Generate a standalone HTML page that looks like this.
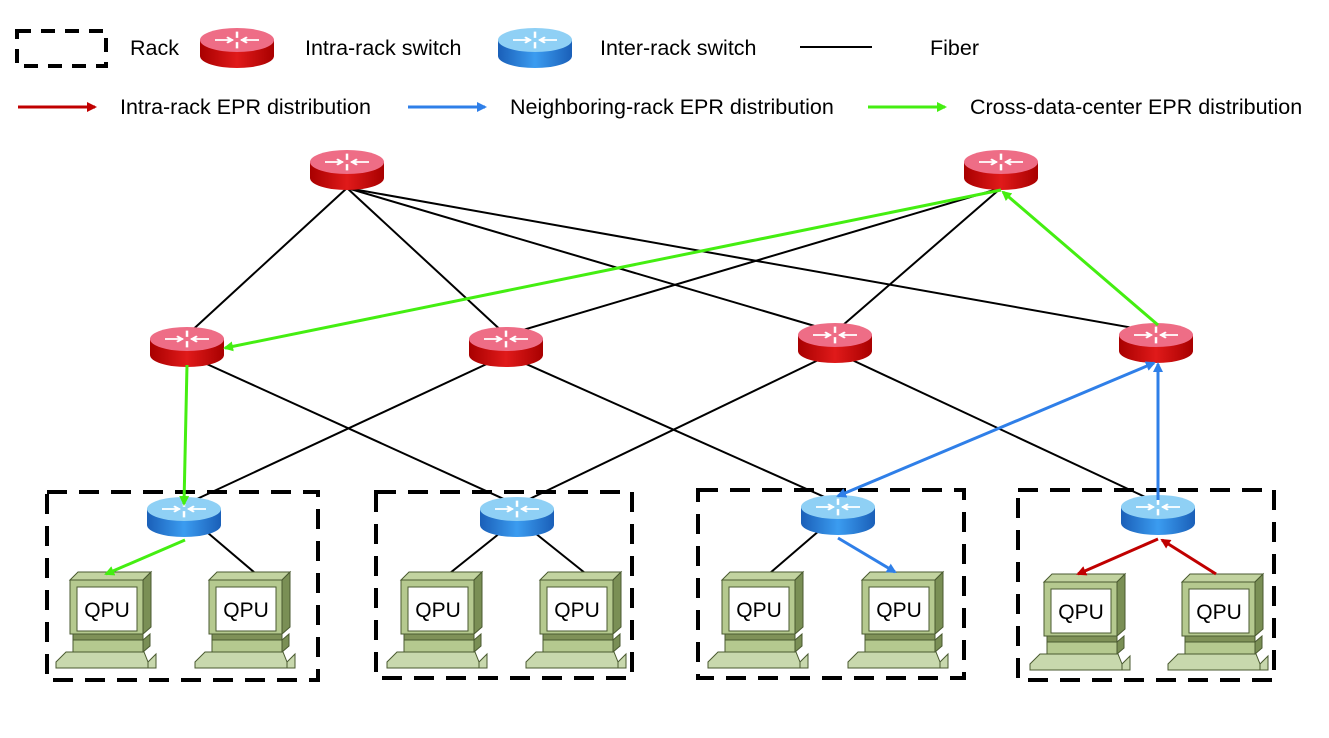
<!DOCTYPE html>
<html><head><meta charset="utf-8"><style>
html,body{margin:0;padding:0;background:#fff;}
svg{display:block;font-family:"Liberation Sans",sans-serif;}
</style></head><body>
<svg width="1329" height="738" viewBox="0 0 1329 738" xmlns="http://www.w3.org/2000/svg">
<defs>
<linearGradient id="rs" x1="0" x2="1"><stop offset="0" stop-color="#a80000"/><stop offset="0.5" stop-color="#e01a1a"/><stop offset="1" stop-color="#a80000"/></linearGradient>
<linearGradient id="bs" x1="0" x2="1"><stop offset="0" stop-color="#1a5fb8"/><stop offset="0.5" stop-color="#3b9cf0"/><stop offset="1" stop-color="#1a5fb8"/></linearGradient>
<g id="arrows"><g stroke="#fff" stroke-width="2.5" fill="none"><path d="M-4,0H-22M4,0H22M0,-3V-12M0,3V12M-10,-4L-5,0L-10,4M10,-4L5,0L10,4"/></g></g>
<g id="red">
<path d="M-37,-8 V8 A37,12 0 0 0 37,8 V-8 Z" fill="url(#rs)"/>
<ellipse cx="0" cy="-8" rx="37" ry="12" fill="#ee6d86"/>
<g transform="translate(0,-8) scale(1,0.7)"><use href="#arrows"/></g>
</g>
<g id="blue">
<path d="M-37,-8 V8 A37,12 0 0 0 37,8 V-8 Z" fill="url(#bs)"/>
<ellipse cx="0" cy="-8" rx="37" ry="12" fill="#8fd0f5"/>
<g transform="translate(0,-8) scale(1,0.7)"><use href="#arrows"/></g>
</g>
<g id="pc" stroke="#4a5a30" stroke-width="1">
<path d="M14,8 L22,0 H95 L87,8 Z" fill="#c2d3a0"/>
<path d="M87,8 L95,0 V55 L87,62 Z" fill="#7a8f55"/>
<rect x="14" y="8" width="73" height="54" fill="#b5c98f"/>
<rect x="21" y="15" width="60" height="44" fill="#fff" stroke="#4a5a30"/>
<rect x="17" y="62" width="70" height="6" fill="#7f9158"/>
<rect x="17" y="68" width="70" height="12" fill="#b5c98f"/>
<path d="M87,68 L94,62 V74 L87,80Z" fill="#7a8f55"/>
<path d="M10,80 H88 L92,90 V96 H0 V90 Z" fill="#c8d8ad"/>
<path d="M92,90 L100,82 V96 H92Z" fill="#c8d8ad"/>
<text x="51" y="45" font-size="21" text-anchor="middle" fill="#000" stroke="none">QPU</text>
</g>
<marker id="mr" markerWidth="10" markerHeight="10" refX="8" refY="5" orient="auto" markerUnits="userSpaceOnUse"><path d="M0,0 L10,5 L0,10Z" fill="#c00000"/></marker>
<marker id="mb" markerWidth="10" markerHeight="10" refX="8" refY="5" orient="auto" markerUnits="userSpaceOnUse"><path d="M0,0 L10,5 L0,10Z" fill="#2f7fe8"/></marker>
<marker id="mbs" markerWidth="10" markerHeight="10" refX="2" refY="5" orient="auto" markerUnits="userSpaceOnUse"><path d="M10,0 L0,5 L10,10Z" fill="#2f7fe8"/></marker>
<marker id="mg" markerWidth="10" markerHeight="10" refX="8" refY="5" orient="auto" markerUnits="userSpaceOnUse"><path d="M0,0 L10,5 L0,10Z" fill="#44ee11"/></marker>
</defs>

<!-- legend -->
<rect x="17" y="31" width="89" height="35" fill="none" stroke="#000" stroke-width="4" stroke-dasharray="14,10"/>
<text x="130" y="55" font-size="21.5">Rack</text>
<use href="#red" x="237" y="48"/>
<text x="305" y="55" font-size="21.5">Intra-rack switch</text>
<use href="#blue" x="535" y="48"/>
<text x="600" y="55" font-size="21.5">Inter-rack switch</text>
<line x1="800" y1="47" x2="872" y2="47" stroke="#000" stroke-width="2"/>
<text x="930" y="55" font-size="21.5">Fiber</text>
<line x1="18" y1="107" x2="95" y2="107" stroke="#c00000" stroke-width="3" marker-end="url(#mr)"/>
<text x="120" y="114" font-size="21.5">Intra-rack EPR distribution</text>
<line x1="408" y1="107" x2="485" y2="107" stroke="#2f7fe8" stroke-width="3" marker-end="url(#mb)"/>
<text x="510" y="114" font-size="21.5">Neighboring-rack EPR distribution</text>
<line x1="868" y1="107" x2="945" y2="107" stroke="#44ee11" stroke-width="3" marker-end="url(#mg)"/>
<text x="970" y="114" font-size="21.5">Cross-data-center EPR distribution</text>

<!-- racks -->
<g fill="none" stroke="#000" stroke-width="4" stroke-dasharray="20,12">
<rect x="47" y="492" width="271" height="188"/>
<rect x="376" y="492" width="256" height="186"/>
<rect x="698" y="490" width="266" height="188"/>
<rect x="1018" y="490" width="256" height="190"/>
</g>

<!-- fibers -->
<g stroke="#000" stroke-width="2">
<line x1="347" y1="188" x2="187" y2="335"/>
<line x1="347" y1="188" x2="506" y2="335"/>
<line x1="347" y1="188" x2="835" y2="332"/>
<line x1="347" y1="188" x2="1156" y2="332"/>
<line x1="1001" y1="188" x2="506" y2="335"/>
<line x1="1001" y1="188" x2="835" y2="332"/>
<line x1="187" y1="355" x2="517" y2="505"/>
<line x1="506" y1="355" x2="184" y2="505"/>
<line x1="506" y1="355" x2="838" y2="503"/>
<line x1="835" y1="352" x2="517" y2="505"/>
<line x1="835" y1="352" x2="1158" y2="503"/>
<line x1="208" y1="533" x2="255" y2="573"/>
<line x1="500" y1="533" x2="450" y2="573"/>
<line x1="535" y1="533" x2="585" y2="573"/>
<line x1="820" y1="530" x2="770" y2="573"/>
</g>

<!-- switches -->
<use href="#red" x="347" y="170"/>
<use href="#red" x="1001" y="170"/>
<use href="#red" x="187" y="347"/>
<use href="#red" x="506" y="347"/>
<use href="#red" x="835" y="343"/>
<use href="#red" x="1156" y="343"/>
<use href="#blue" x="184" y="517"/>
<use href="#blue" x="517" y="517"/>
<use href="#blue" x="838" y="515"/>
<use href="#blue" x="1158" y="515"/>

<!-- computers -->
<use href="#pc" x="56" y="572"/>
<use href="#pc" x="195" y="572"/>
<use href="#pc" x="387" y="572"/>
<use href="#pc" x="526" y="572"/>
<use href="#pc" x="708" y="572"/>
<use href="#pc" x="848" y="572"/>
<use href="#pc" x="1030" y="574"/>
<use href="#pc" x="1168" y="574"/>

<!-- EPR arrows -->
<g stroke-width="3" fill="none">
<line x1="1001" y1="190" x2="225" y2="348" stroke="#44ee11" marker-end="url(#mg)"/>
<line x1="1158" y1="325" x2="1003" y2="192" stroke="#44ee11" marker-end="url(#mg)"/>
<line x1="187" y1="365" x2="184" y2="504" stroke="#44ee11" marker-end="url(#mg)"/>
<line x1="185" y1="540" x2="106" y2="574" stroke="#44ee11" marker-end="url(#mg)"/>
<line x1="1154" y1="363" x2="838" y2="496" stroke="#2f7fe8" marker-end="url(#mb)" marker-start="url(#mbs)"/>
<line x1="1158" y1="500" x2="1158" y2="364" stroke="#2f7fe8" marker-end="url(#mb)"/>
<line x1="838" y1="538" x2="895" y2="572" stroke="#2f7fe8" marker-end="url(#mb)"/>
<line x1="1158" y1="539" x2="1078" y2="574" stroke="#c00000" marker-end="url(#mr)"/>
<line x1="1216" y1="574" x2="1162" y2="540" stroke="#c00000" marker-end="url(#mr)"/>
</g>
</svg>
</body></html>
